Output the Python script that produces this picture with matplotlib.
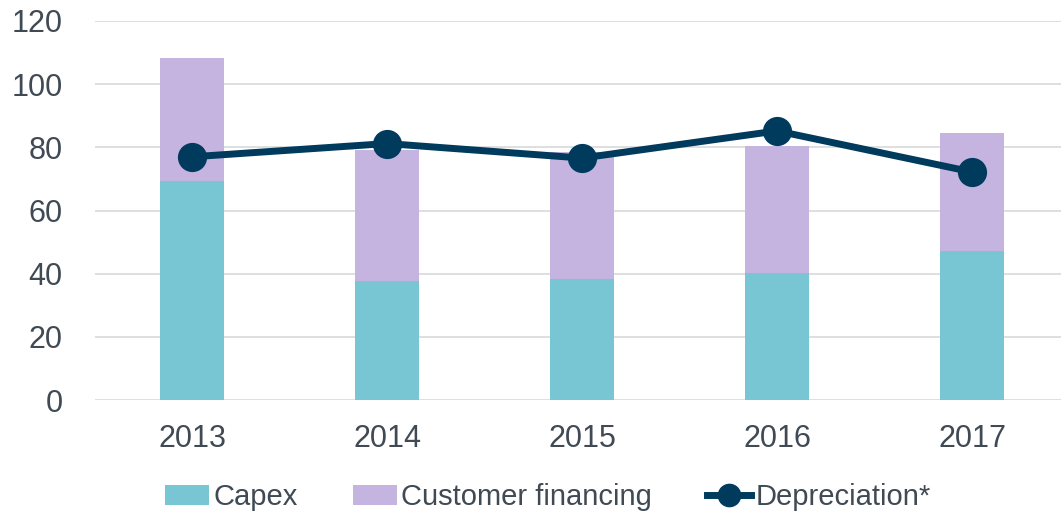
# Capex and customer financing (stacked) against depreciation, 2013-2017

import numpy as np
import matplotlib.pyplot as plt

years = ['2013', '2014', '2015', '2016', '2017']
capex = [69.3, 37.8, 38.4, 40.2, 47.2]
customer_financing = [39.0, 41.5, 40.2, 40.2, 37.3]
depreciation = [77.0, 81.2, 76.6, 85.2, 72.2]

plt.rcParams['font.family'] = ['Liberation Sans', 'DejaVu Sans']
text_color = '#404A54'

fig = plt.figure(figsize=(10.61, 5.14), dpi=100)
ax = fig.add_axes([94.5 / 1061, 114 / 514, (1061 - 94.5) / 1061, 379 / 514])

x = np.arange(len(years))
b1 = ax.bar(x, capex, width=0.33, color='#78C5D4', label='Capex', zorder=2)
b2 = ax.bar(x, customer_financing, width=0.33, bottom=capex, color='#C5B3E0',
            label='Customer financing', zorder=2)
ln, = ax.plot(x, depreciation, color='#003A5C', lw=5, marker='o', markersize=20,
              label='Depreciation*', zorder=3)

ax.set_ylim(0, 120)
ax.set_yticks(range(0, 121, 20))
ax.set_xlim(-0.5, 4.456)
ax.set_xticks(x)
ax.set_xticklabels(years)
ax.grid(axis='y', color='#D9D9D9', lw=1.2, zorder=0)
ax.tick_params(axis='both', length=0, labelsize=22, colors=text_color)
ax.tick_params(axis='y', pad=23)
ax.tick_params(axis='x', pad=17)
for s in ax.spines.values():
    s.set_visible(False)

ax.legend([b1, b2, ln], ['Capex', 'Customer financing', 'Depreciation*'],
          loc='lower center', bbox_to_anchor=(0.469, -0.362), ncol=3,
          frameon=False, labelcolor=text_color, fontsize=21,
          handlelength=1.5, handletextpad=0.15, columnspacing=1.9,
          markerscale=0.8)

fig.savefig('out.png', dpi=100)
